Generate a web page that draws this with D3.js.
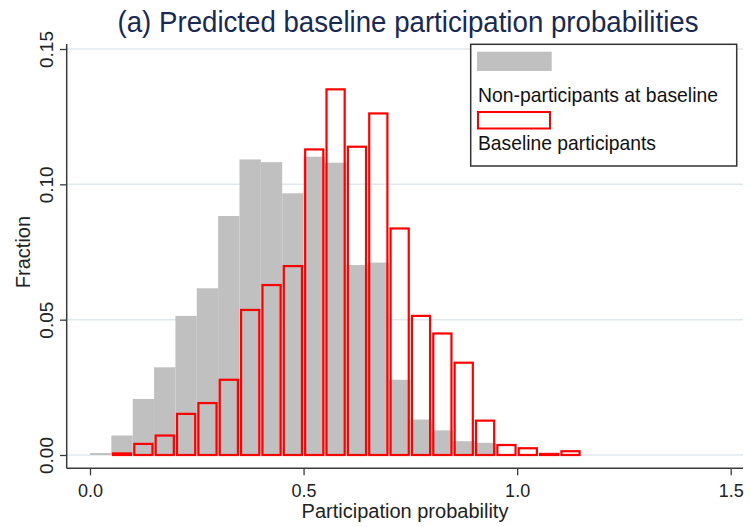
<!DOCTYPE html>
<html>
<head>
<meta charset="utf-8">
<script src="https://cdn.jsdelivr.net/npm/d3@7"></script>
<style>
  body { margin: 0; background: #fff; }
  svg text { font-family: "Liberation Sans", Arial, sans-serif; }
</style>
</head>
<body>
<div id="vis"></div>
<script>
// histogram bins, width 0.05, starting at 0.0
const binWidth = 0.05;

// fraction per bin, non-participants at baseline (grey bars)
const nonParticipants = [0.0007, 0.0072, 0.0207, 0.0324, 0.0514, 0.0616, 0.0883, 0.1092,
  0.1082, 0.0967, 0.1102, 0.1080, 0.0702, 0.0711, 0.0278, 0.0131, 0.0091, 0.0051, 0.0045];

// fraction per bin, baseline participants (red outline bars)
const participants = [0, 0.0010, 0.0045, 0.0076, 0.0156, 0.0196, 0.0282, 0.0540,
  0.0632, 0.0702, 0.1133, 0.1355, 0.1143, 0.1266, 0.0841, 0.0518, 0.0453, 0.0345,
  0.0131, 0.0041, 0.0029, 0.0008, 0.0018];

const xTicks = [0, 0.5, 1.0, 1.5];
const yTicks = [0, 0.05, 0.10, 0.15];

const legendLabels = ['Non-participants at baseline', 'Baseline participants'];
const titleText = '(a) Predicted baseline participation probabilities';

function histChart() {
  let width = 750;
  let height = 527;

  // plot region edges (axis lines)
  let plotLeft = 66.7;
  let plotRight = 743;
  let plotBottom = 468.3;

  let x = d3.scaleLinear().domain([0, 1.5]).range([90, 730.7]);
  let y = d3.scaleLinear().domain([0, 0.15]).range([455, 49]);

  let svg = d3.select('#vis')
    .append('svg')
    .attr('width', width)
    .attr('height', height);

  // title
  svg.append('text')
    .attr('x', 408)
    .attr('y', 31.5)
    .attr('text-anchor', 'middle')
    .attr('font-size', 29)
    .attr('fill', '#1a2950')
    .attr('textLength', 581)
    .attr('lengthAdjust', 'spacingAndGlyphs')
    .text(titleText);

  // gridlines
  svg.append('g')
    .selectAll('line')
    .data(yTicks)
    .enter().append('line')
    .attr('x1', plotLeft)
    .attr('x2', plotRight)
    .attr('y1', d => y(d))
    .attr('y2', d => y(d))
    .attr('stroke', '#e0e9ee')
    .attr('stroke-width', 1.5);

  // grey bars
  svg.append('g')
    .selectAll('rect')
    .data(nonParticipants)
    .enter().append('rect')
    .attr('x', (d, i) => x(i * binWidth))
    .attr('width', (d, i) => x((i + 1) * binWidth) - x(i * binWidth))
    .attr('y', d => y(d))
    .attr('height', d => y(0) - y(d))
    .attr('fill', '#c0c0c0');

  // red outline bars, stroke kept inside the bin
  svg.append('g')
    .selectAll('rect')
    .data(participants.map((v, i) => ({ v: v, i: i })).filter(d => d.v > 0))
    .enter().append('rect')
    .attr('x', d => x(d.i * binWidth) + 1.6)
    .attr('width', d => x((d.i + 1) * binWidth) - x(d.i * binWidth) - 3.2)
    .attr('y', d => y(d.v) + 1.1)
    .attr('height', d => Math.max(0.5, y(0) - y(d.v) - 1.1))
    .attr('fill', 'none')
    .attr('stroke', '#ff0000')
    .attr('stroke-width', 2.2);

  // axis lines
  svg.append('line')
    .attr('x1', plotLeft).attr('x2', plotLeft)
    .attr('y1', 44).attr('y2', plotBottom)
    .attr('stroke', '#3a3a3a').attr('stroke-width', 1.5);
  svg.append('line')
    .attr('x1', plotLeft).attr('x2', plotRight)
    .attr('y1', plotBottom).attr('y2', plotBottom)
    .attr('stroke', '#3a3a3a').attr('stroke-width', 1.5);

  // x axis
  let xAxis = svg.append('g')
    .attr('transform', 'translate(0,' + plotBottom + ')')
    .call(d3.axisBottom(x).tickValues(xTicks).tickFormat(d3.format('.1f')).tickSize(7));
  xAxis.select('.domain').remove();
  xAxis.selectAll('line').attr('stroke', '#3a3a3a').attr('stroke-width', 1.3);
  xAxis.selectAll('text')
    .attr('y', 28.7)
    .attr('dy', 0)
    .attr('font-size', 18)
    .attr('fill', '#222');

  // y axis, labels turned upright like Stata
  let yAxis = svg.append('g')
    .attr('transform', 'translate(' + plotLeft + ',0)')
    .call(d3.axisLeft(y).tickValues(yTicks).tickFormat(d3.format('.2f')).tickSize(6.7));
  yAxis.select('.domain').remove();
  yAxis.selectAll('line').attr('stroke', '#3a3a3a').attr('stroke-width', 1.3);
  yAxis.selectAll('text')
    .attr('transform', 'rotate(-90)')
    .attr('x', 0)
    .attr('y', -13.7)
    .attr('dy', 0)
    .attr('text-anchor', 'middle')
    .attr('font-size', 19)
    .attr('fill', '#222');

  // axis titles
  svg.append('text')
    .attr('x', 405)
    .attr('y', 518.3)
    .attr('text-anchor', 'middle')
    .attr('font-size', 20)
    .attr('fill', '#222')
    .text('Participation probability');

  svg.append('text')
    .attr('transform', 'translate(30,252) rotate(-90)')
    .attr('text-anchor', 'middle')
    .attr('font-size', 20)
    .attr('fill', '#222')
    .text('Fraction');

  // legend
  let legend = svg.append('g');
  legend.append('rect')
    .attr('x', 470.7).attr('y', 44.3)
    .attr('width', 266).attr('height', 121.7)
    .attr('fill', '#fff')
    .attr('stroke', '#333')
    .attr('stroke-width', 1.5);
  legend.append('rect')
    .attr('x', 477).attr('y', 51.7)
    .attr('width', 74.7).attr('height', 19.3)
    .attr('fill', '#c0c0c0');
  legend.append('text')
    .attr('x', 478).attr('y', 101.7)
    .attr('font-size', 21)
    .attr('fill', '#111')
    .attr('textLength', 240)
    .attr('lengthAdjust', 'spacingAndGlyphs')
    .text(legendLabels[0]);
  legend.append('rect')
    .attr('x', 478).attr('y', 112)
    .attr('width', 72).attr('height', 16.5)
    .attr('fill', 'none')
    .attr('stroke', '#ff0000')
    .attr('stroke-width', 2);
  legend.append('text')
    .attr('x', 478).attr('y', 150)
    .attr('font-size', 21)
    .attr('fill', '#111')
    .attr('textLength', 178)
    .attr('lengthAdjust', 'spacingAndGlyphs')
    .text(legendLabels[1]);
}

histChart();
</script>
</body>
</html>
